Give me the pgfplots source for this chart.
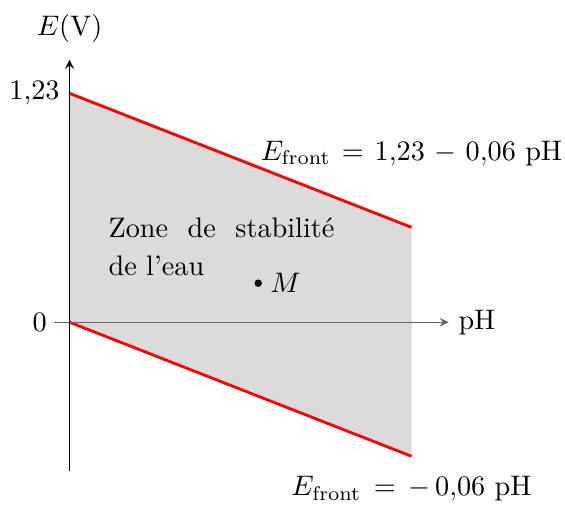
\documentclass[border=0pt]{standalone}
\usepackage{pgfplots}
\pgfplotsset{compat=1.18}
\begin{document}
\begin{tikzpicture}
\begin{axis}[
  scale only axis,
  width=139.6pt, height=145.7pt,
  xmin=-0.53, xmax=13.3,
  ymin=-0.80, ymax=1.41,
  axis lines=middle,
  axis on top,
  x axis line style={black!60, -stealth},
  y axis line style={black, -stealth},
  xtick=\empty, ytick=\empty,
  clip=false,
]
\addplot[fill=gray!28, draw=none] coordinates {(0,1.23) (12,0.51) (12,-0.72) (0,0)} -- cycle;
\addplot[red, line width=1pt] coordinates {(0,1.23) (12,0.51)};
\addplot[red, line width=1pt] coordinates {(0,0) (12,-0.72)};
\addplot[only marks, mark=*, mark size=1.1pt, black] coordinates {(6.62,0.21)};
\node[anchor=west, inner sep=1.5pt] at (axis cs:6.88,0.21) {$M$};
\node[anchor=east] at (axis cs:0,1.23) {$1{,}23$};
\node[anchor=east, inner sep=2.5pt] at (axis cs:-0.53,0) {$0$};
\node[anchor=south] (EV) at (axis cs:0,1.45) {$E(\mathrm{V})$};
\node[anchor=west] at (axis cs:13.3,0) {pH};
\node[inner sep=1pt] at (axis cs:12,0.905) {$E_{\mathrm{front}}\mskip2mu=\mskip2mu1{,}23\mskip2mu-\mskip2mu0{,}06\ \mathrm{pH}$};
\node[inner sep=1pt] at (axis cs:12,-0.895) {$E_{\mathrm{front}}\mskip3mu=\mskip3mu-\,0{,}06\ \mathrm{pH}$};
\node[anchor=north west, text width=80pt, align=justify, inner sep=0pt,
  execute at begin node={\setlength{\baselineskip}{13.5pt}}] at (axis cs:1.35,0.565) {Zone de stabilité de l'eau};
\end{axis}
\path ([yshift=1.5pt]EV.north);
\end{tikzpicture}
\end{document}
